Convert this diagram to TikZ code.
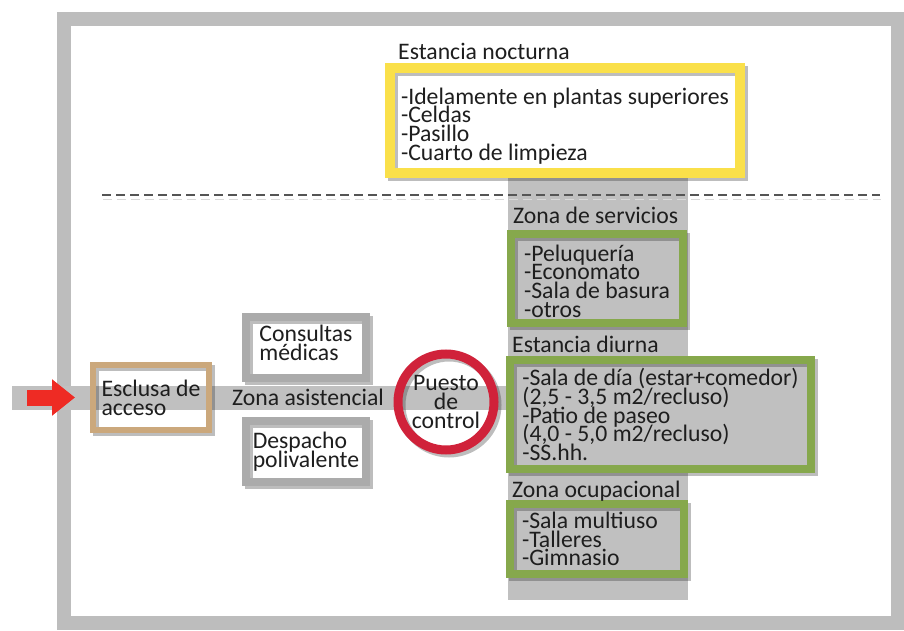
\documentclass[tikz,border=0pt]{standalone}
\usepackage{fontspec}
\setmainfont{Carlito}
\usetikzlibrary{arrows.meta,shapes,positioning}

\definecolor{framegray}{HTML}{BDBDBD}
\definecolor{bandgray}{HTML}{C0C0C0}
\definecolor{dashgray}{HTML}{555555}
\definecolor{nightyellow}{HTML}{FAE04A}
\definecolor{zonegreen}{HTML}{86A84C}
\definecolor{boxgray}{HTML}{ABABAB}
\definecolor{sasgold}{HTML}{CBA87C}
\definecolor{ctrlred}{HTML}{D0223A}
\definecolor{arrowred}{HTML}{EE2B24}
\definecolor{textgray}{HTML}{1E1E1E}

\begin{document}
\lineskiplimit=-50pt
\begin{tikzpicture}[x=1pt, y=-1pt]
	\tikzset{ShadowStyle/.style = {
			preaction={draw=black!85, opacity=.3,
				transform canvas={xshift=3pt, yshift=-3pt}}
	}}
	\tikzset{BoxStyle/.style = {
			shape=rectangle, inner sep=0pt, align=left,
			line width=8pt, preaction={fill=#1}, ShadowStyle
		}, BoxStyle/.default=white}
	\tikzset{LabelStyle/.style = {inner sep=0pt, anchor=base west}}
	\tikzset{every node/.style = {text=textgray,
			font={\fontsize{23.7}{18.8}\selectfont}}}
	\useasboundingbox (0,0) rectangle (904,631);

	% frame and corridors
	\draw[line width=14pt, framegray, ShadowStyle] (64,19) rectangle (898,623);
	\fill[bandgray] (12,386) rectangle (510,410);
	\fill[bandgray] (508,170) rectangle (688,600);
	\draw[dashgray, line width=2.5pt, dash pattern=on 9pt off 5pt,
		preaction={draw=black!15, dash pattern=on 9pt off 5pt, transform canvas={xshift=1pt, yshift=-4pt}}] (102,195) -- (880,195);

	% night zone
	\node[BoxStyle, draw=nightyellow, line width=10pt, minimum width=350pt, minimum height=105pt, text height=84pt] (noct) at (565,120.5)
		{-Idelamente en plantas superiores\\-Celdas\\-Pasillo\\-Cuarto de limpieza};
	\node[above right=3pt and 13pt of noct.north west, LabelStyle] (noct-lbl) {Estancia nocturna};

	% day zones
	\node[BoxStyle=bandgray, draw=zonegreen, minimum width=172pt, minimum height=89pt, text height=78pt] (serv) at (597,278.5)
		{-Peluquería\\-Economato\\-Sala de basura\\-otros};
	\node[above right=7pt and 6pt of serv.north west, LabelStyle] (serv-lbl) {Zona de servicios};
	\node[BoxStyle=bandgray, draw=zonegreen, minimum width=301pt, minimum height=109pt] (diur) at (660.5,414.5)
		{-Sala de día (estar+comedor)\\(2,5 - 3,5 m2/recluso)\\-Patio de paseo\\(4,0 - 5,0 m2/recluso)\\-SS.hh.};
	\node[above right=4pt and 6pt of diur.north west, LabelStyle] (diur-lbl) {Estancia diurna};
	\node[BoxStyle=bandgray, draw=zonegreen, minimum width=174pt, minimum height=70pt, text width=150pt, inner xsep=12pt, align=flush left] (ocup) at (597,539)
		{-Sala multiuso\\-Talleres\\-Gimnasio};
	\node[above right=3pt and 6pt of ocup.north west, LabelStyle] (ocup-lbl) {Zona ocupacional};

	% access and care
	\node[BoxStyle, draw=boxgray, minimum width=120pt, minimum height=61pt, text depth=10pt] (consul) at (306,347.5) {Consultas\\médicas};
	\node[BoxStyle, draw=boxgray, minimum width=120pt, minimum height=61pt, below=35pt of consul] (desp) {Despacho\\polivalente};
	\node[BoxStyle=none, draw=sasgold, line width=6pt, minimum width=116pt, minimum height=65pt] (escl) at (151,397.5) {Esclusa de\\acceso};
	\node[inner sep=0pt, right=20pt of escl] (zasist) {Zona asistencial};
	\node[circle, draw=ctrlred, line width=9pt, minimum size=96pt, inner sep=0pt, align=center, ShadowStyle] (puesto) at (446,402)
		{Puesto\\de\\control};

	\coordinate (entry) at (27,397.5);
	\draw[arrowred, line width=16pt, -{Triangle[length=23pt, width=35pt]}, shorten >=15pt] (entry) -- (escl.west);
\end{tikzpicture}
\end{document}
